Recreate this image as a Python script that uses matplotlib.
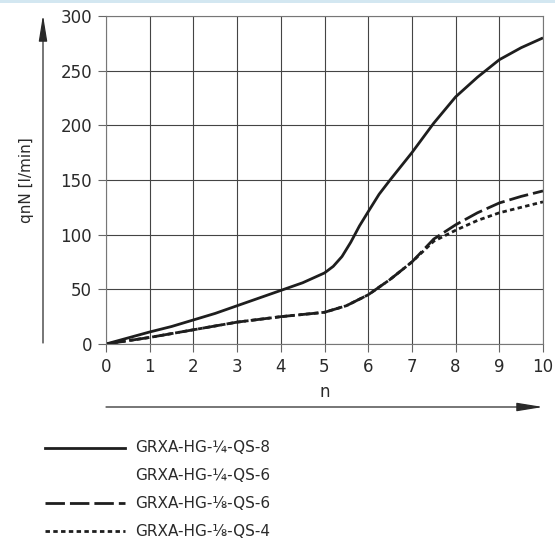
import matplotlib
matplotlib.use("Agg")
import matplotlib.pyplot as plt
from matplotlib.lines import Line2D
from matplotlib.patches import Rectangle, FancyArrowPatch

plt.rcParams["font.family"] = ["DejaVu Sans"]

# data
n_qs8 = [0, 0.5, 1, 1.5, 2, 2.5, 3, 3.5, 4, 4.5, 5, 5.2, 5.4, 5.6, 5.8, 6, 6.25, 6.5, 7, 7.5, 8, 8.5, 9, 9.5, 10]
q_qs8 = [0, 5.5, 11, 16, 22, 28, 35, 42, 49, 56, 65, 71, 80, 93, 108, 121, 137, 150, 175, 202, 226, 244, 260, 271, 280]

n_18qs6 = [0, 0.5, 1, 1.5, 2, 2.5, 3, 3.5, 4, 4.5, 5, 5.5, 6, 6.5, 7, 7.5, 8, 8.5, 9, 9.5, 10]
q_18qs6 = [0, 3, 6, 9.5, 13, 16.5, 20, 22.5, 25, 27, 29, 35, 45, 59, 75, 96, 109, 120, 129, 135, 140]

n_18qs4 = [0, 0.5, 1, 1.5, 2, 2.5, 3, 3.5, 4, 4.5, 5, 5.5, 6, 6.5, 7, 7.5, 8, 8.5, 9, 9.5, 10]
q_18qs4 = [0, 3, 6, 9.5, 13, 16.5, 20, 22.5, 25, 27, 29, 35, 45, 59, 75, 94, 104, 113, 120, 125, 130]

labels = ["GRXA-HG-¼-QS-8", "GRXA-HG-¼-QS-6", "GRXA-HG-⅛-QS-6", "GRXA-HG-⅛-QS-4"]

x_ticks = list(range(0, 11))
y_ticks = [0, 50, 100, 150, 200, 250, 300]

W, H = 555, 547
fig = plt.figure(figsize=(W / 100, H / 100), dpi=100)

# thin light blue band at the top
fig.patches.append(Rectangle((0, 1 - 3 / H), 1, 3 / H, transform=fig.transFigure,
                             facecolor="#d3e7f1", edgecolor="none"))

ax = fig.add_axes([106 / W, 1 - 344 / H, (543 - 106) / W, (344 - 16) / H])

ink = "#1e1e1e"
txt = "#2a2a2a"

ax.plot(n_qs8, q_qs8, color=ink, lw=2.0, solid_capstyle="butt")
ax.plot(n_18qs4, q_18qs4, color=ink, lw=2.0, dashes=(1.6, 1.2))
ax.plot(n_18qs6, q_18qs6, color=ink, lw=2.0, dashes=(7, 1.8))

ax.set_xlim(0, 10)
ax.set_ylim(0, 300)
ax.set_xticks(x_ticks)
ax.set_yticks(y_ticks)
ax.grid(True, color="#444444", lw=0.8)
for s in ax.spines.values():
    s.set_color("#777777")
    s.set_linewidth(0.8)
ax.tick_params(direction="out", length=6, width=0.8, color="#666666",
               labelsize=12, labelcolor=txt, pad=4)

arrow = "-|>,head_length=16,head_width=2.6"

# y axis label and arrow
fig.text(27 / W, 1 - 180 / H, "qnN [l/min]", rotation=90, ha="center", va="center",
         fontsize=11, color=txt)
fig.add_artist(FancyArrowPatch((43 / W, 1 - 343 / H), (43 / W, 1 - 15 / H),
                               transform=fig.transFigure, arrowstyle=arrow,
                               color=txt, lw=0.9, shrinkA=0, shrinkB=0))

# x axis label and arrow
fig.text(325 / W, 1 - 392 / H, "n", ha="center", va="center", fontsize=12, color=txt)
fig.add_artist(FancyArrowPatch((106 / W, 1 - 407 / H), (543 / W, 1 - 407 / H),
                               transform=fig.transFigure, arrowstyle=arrow,
                               color=txt, lw=0.9, shrinkA=0, shrinkB=0))

# legend drawn below the chart
row_y = [448, 475, 503, 531]
styles = [dict(ls="-"), None, dict(dashes=(7, 1.8)), dict(dashes=(1.6, 1.2))]
for yy, lab, st in zip(row_y, labels, styles):
    yf = 1 - yy / H
    if st is not None:
        fig.add_artist(Line2D([45 / W, 125 / W], [yf, yf], transform=fig.transFigure,
                              color=ink, lw=2.0, **st))
    fig.text(135 / W, yf, lab, ha="left", va="center", fontsize=11, color=txt)

fig.savefig("out.png", dpi=100)
